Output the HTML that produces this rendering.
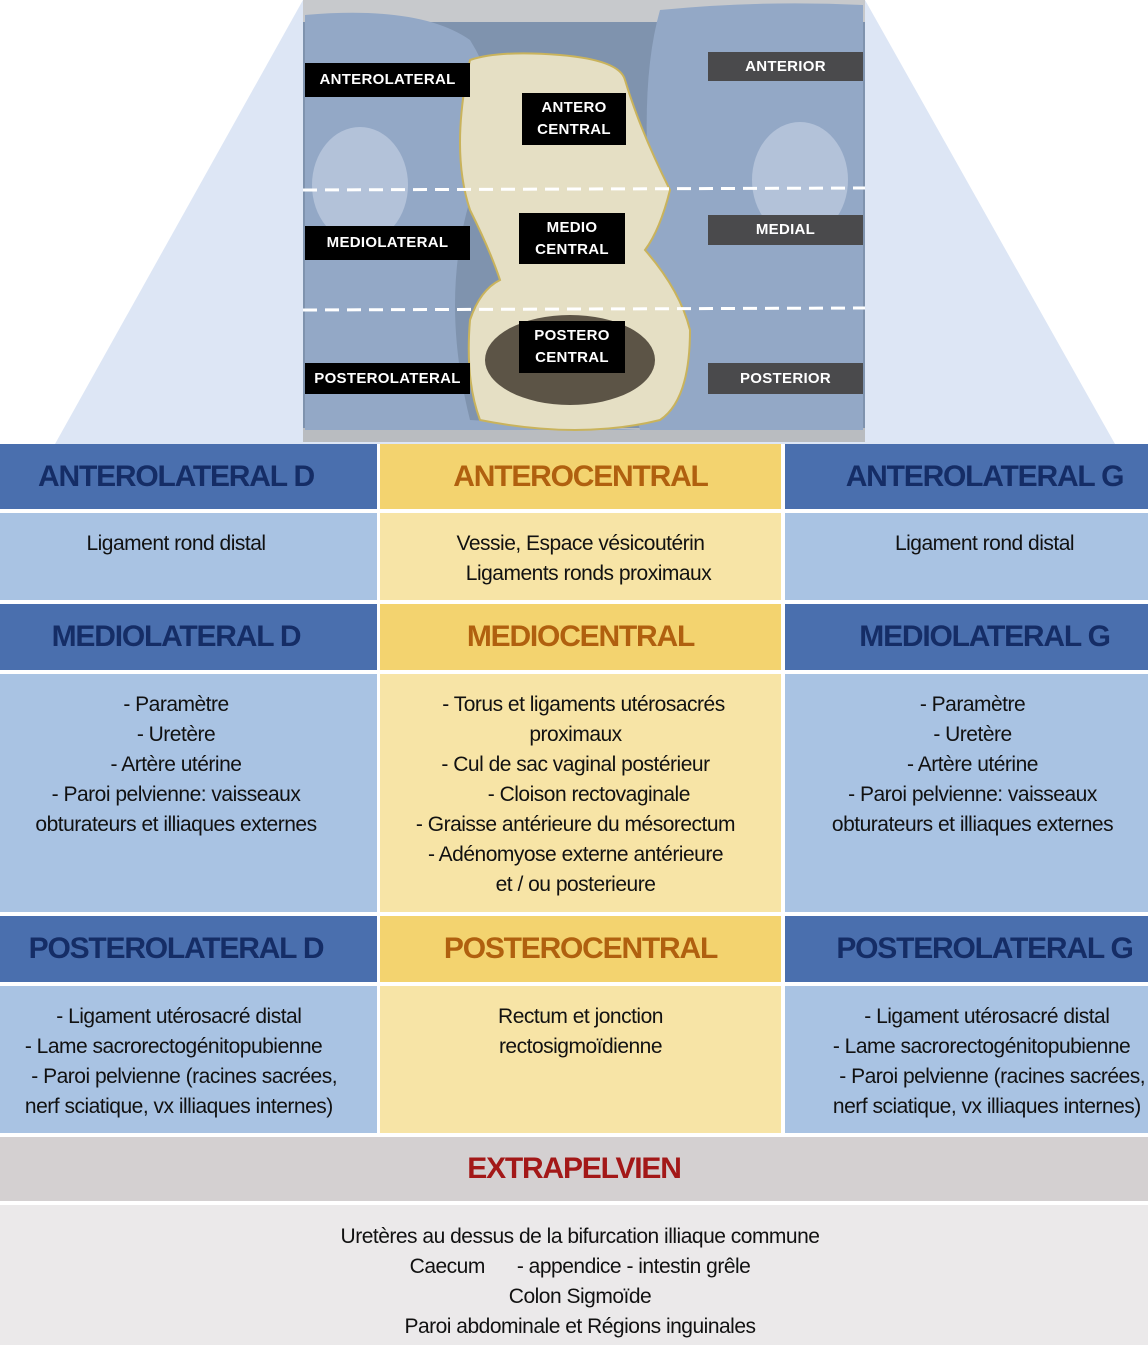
<!DOCTYPE html>
<html><head><meta charset="utf-8"><style>
*{margin:0;padding:0;box-sizing:border-box}
body{width:1148px;height:1345px;background:#fff;position:relative;overflow:hidden;font-family:"Liberation Sans",Arial,sans-serif}
.a{position:absolute}
.h{display:flex;align-items:center;justify-content:center;font-weight:bold;font-size:30px;letter-spacing:-1.2px}
.hb{background:#4a6fae;color:#152d66}
.hy{background:#f3d36f;color:#b0600f}
.bb{background:#a9c3e3}
.by{background:#f7e4a6}
.t{font-size:21px;line-height:30px;color:#111;text-align:center;letter-spacing:-0.5px}
.lab{position:absolute;color:#fff;font-weight:bold;font-size:15px;display:flex;align-items:center;justify-content:center;text-align:center;line-height:22px;letter-spacing:0.3px}
.k{background:#000}.g{background:#4a4a4c}
</style></head><body>
<svg class="a" style="left:0;top:0" width="1148" height="445">
<polygon points="303,0 865,0 1115,444 55,444" fill="#dde6f5"/>
<rect x="303" y="0" width="562" height="442" fill="#7f93ae"/>
<rect x="303" y="0" width="562" height="22" fill="#c7c9cc"/>
<rect x="303" y="428" width="562" height="14" fill="#b9bcc0"/>
<path d="M305,15 Q420,5 470,40 Q520,120 470,200 Q440,300 470,420 L640,430 Q600,300 650,200 Q640,80 660,10 Q760,0 863,5 L863,430 L305,430Z" fill="#93a8c6"/>
<ellipse cx="360" cy="185" rx="48" ry="58" fill="#b3c2d9"/>
<ellipse cx="800" cy="180" rx="48" ry="58" fill="#b3c2d9"/>
<path d="M470,60 Q500,50 560,55 Q620,60 625,80 Q640,130 670,190 Q660,230 645,250 Q680,290 690,330 Q690,400 660,420 Q580,440 480,420 Q465,380 470,320 Q480,290 500,280 Q490,250 470,210 Q450,150 470,60Z" fill="#e5dfc4" stroke="#c9b35c" stroke-width="2"/>
<ellipse cx="570" cy="360" rx="85" ry="45" fill="#5c5446"/>
<line x1="303" y1="190" x2="865" y2="188" stroke="#fff" stroke-width="3" stroke-dasharray="14,8"/>
<line x1="303" y1="310" x2="865" y2="308" stroke="#fff" stroke-width="3" stroke-dasharray="14,8"/>
</svg>
<div class="lab k" style="left:305px;top:63px;width:165px;height:34px">ANTEROLATERAL</div>
<div class="lab k" style="left:522px;top:93px;width:104px;height:52px">ANTERO<br>CENTRAL</div>
<div class="lab g" style="left:708px;top:52px;width:155px;height:29px">ANTERIOR</div>
<div class="lab k" style="left:305px;top:226px;width:165px;height:34px">MEDIOLATERAL</div>
<div class="lab k" style="left:519px;top:213px;width:106px;height:51px">MEDIO<br>CENTRAL</div>
<div class="lab g" style="left:708px;top:215px;width:155px;height:30px">MEDIAL</div>
<div class="lab k" style="left:305px;top:363px;width:165px;height:31px">POSTEROLATERAL</div>
<div class="lab k" style="left:519px;top:321px;width:106px;height:52px">POSTERO<br>CENTRAL</div>
<div class="lab g" style="left:708px;top:363px;width:155px;height:31px">POSTERIOR</div>

<div class="a h hb" style="left:0;top:444px;width:377px;height:65px;padding-right:25px">ANTEROLATERAL D</div>
<div class="a h hy" style="left:380px;top:444px;width:401px;height:65px">ANTEROCENTRAL</div>
<div class="a h hb" style="left:785px;top:444px;width:363px;height:65px;padding-left:36px">ANTEROLATERAL G</div>
<div class="a bb t" style="left:0;top:513px;width:377px;height:87px;padding-top:16px;padding-right:25px">Ligament rond distal</div>
<div class="a by t" style="left:380px;top:513px;width:401px;height:87px;padding-top:16px">Vessie, Espace vésicoutérin<br>&nbsp;&nbsp;&nbsp;Ligaments ronds proximaux</div>
<div class="a bb t" style="left:785px;top:513px;width:363px;height:87px;padding-top:16px;padding-left:36px">Ligament rond distal</div>

<div class="a h hb" style="left:0;top:604px;width:377px;height:66px;padding-right:25px">MEDIOLATERAL D</div>
<div class="a h hy" style="left:380px;top:604px;width:401px;height:66px">MEDIOCENTRAL</div>
<div class="a h hb" style="left:785px;top:604px;width:363px;height:66px;padding-left:36px">MEDIOLATERAL G</div>
<div class="a bb t" style="left:0;top:674px;width:377px;height:238px;padding-top:16px;padding-right:25px">- Paramètre<br>- Uretère<br>- Artère utérine<br>- Paroi pelvienne: vaisseaux<br>obturateurs et illiaques externes</div>
<div class="a by t" style="left:380px;top:674px;width:401px;height:238px;padding-top:16px;padding-right:10px">&nbsp;&nbsp;&nbsp;- Torus et ligaments utérosacrés<br>proximaux<br>- Cul de sac vaginal postérieur<br>&nbsp;&nbsp;&nbsp;&nbsp;&nbsp;- Cloison rectovaginale<br>- Graisse antérieure du mésorectum<br>- Adénomyose externe antérieure<br>et / ou posterieure</div>
<div class="a bb t" style="left:785px;top:674px;width:363px;height:238px;padding-top:16px;padding-left:12px">- Paramètre<br>- Uretère<br>- Artère utérine<br>- Paroi pelvienne: vaisseaux<br>obturateurs et illiaques externes</div>

<div class="a h hb" style="left:0;top:916px;width:377px;height:66px;padding-right:25px">POSTEROLATERAL D</div>
<div class="a h hy" style="left:380px;top:916px;width:401px;height:66px">POSTEROCENTRAL</div>
<div class="a h hb" style="left:785px;top:916px;width:363px;height:66px;padding-left:36px">POSTEROLATERAL G</div>
<div class="a bb t" style="left:0;top:986px;width:377px;height:147px;padding-top:16px;padding-right:30px;white-space:nowrap">&nbsp;&nbsp;- Ligament utérosacré distal<br>- Lame sacrorectogénitopubienne<br>&nbsp;&nbsp;&nbsp;&nbsp;- Paroi pelvienne (racines sacrées,<br>&nbsp;&nbsp;nerf sciatique, vx illiaques internes)</div>
<div class="a by t" style="left:380px;top:986px;width:401px;height:147px;padding-top:16px">Rectum et jonction<br>rectosigmoïdienne</div>
<div class="a bb t" style="left:785px;top:986px;width:363px;height:147px;padding-top:16px;padding-left:30px;white-space:nowrap">&nbsp;&nbsp;- Ligament utérosacré distal<br>- Lame sacrorectogénitopubienne<br>&nbsp;&nbsp;&nbsp;&nbsp;- Paroi pelvienne (racines sacrées,<br>&nbsp;&nbsp;nerf sciatique, vx illiaques internes)</div>

<div class="a h" style="left:0;top:1137px;width:1148px;height:64px;background:#d4d0d1;color:#a31818">EXTRAPELVIEN</div>
<div class="a t" style="left:0;top:1205px;width:1148px;height:140px;background:#ebe9ea;padding-top:17px;padding-left:12px">Uretères au dessus de la bifurcation illiaque commune<br>Caecum &nbsp;&nbsp;&nbsp;&nbsp;&nbsp;- appendice - intestin grêle<br>Colon Sigmoïde<br>Paroi abdominale et Régions inguinales</div>
</body></html>
